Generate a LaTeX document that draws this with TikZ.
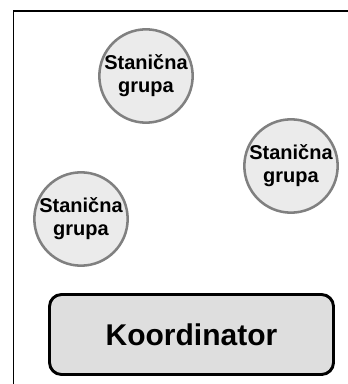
\documentclass[tikz,border=0pt]{standalone}
\usepackage{fontspec}
\setmainfont{Liberation Sans}
\usepackage{tikz}
\usetikzlibrary{calc}

\definecolor{grpfill}{RGB}{235,235,235}
\definecolor{grpline}{RGB}{128,128,128}
\definecolor{koordfill}{RGB}{222,222,222}

\begin{document}
\begin{tikzpicture}[x=0.75pt,y=0.75pt,yscale=-1,xscale=1,
  grupa/.style={circle, draw=grpline, fill=grpfill, line width=1.9pt, minimum size=70pt, inner sep=-2pt, align=center, font=\fontsize{15}{17.25}\selectfont\bfseries},
  koord/.style={draw=black, fill=koordfill, line width=2.2pt, rounded corners=9pt, minimum width=213pt, minimum height=60pt, font=\fontsize{22.5}{26}\selectfont\bfseries}]
%set diagram size 348 x 384
\useasboundingbox (0,0) rectangle (348,384);

%Outer frame
\draw [line width=1.1pt]  (13.5,11) rectangle (370,400) ;

% Stanicne grupe
\node [grupa] (grpTop) at (146,76) {Stanična\\grupa};
\node [grupa] (grpRight) at (291,166) {Stanična\\grupa};
\node [grupa] (grpLeft) at (81,219) {Stanična\\grupa};

% Koordinator
\node [koord] (koord) at (191.5,334.5) {Koordinator};

\end{tikzpicture}
\end{document}
